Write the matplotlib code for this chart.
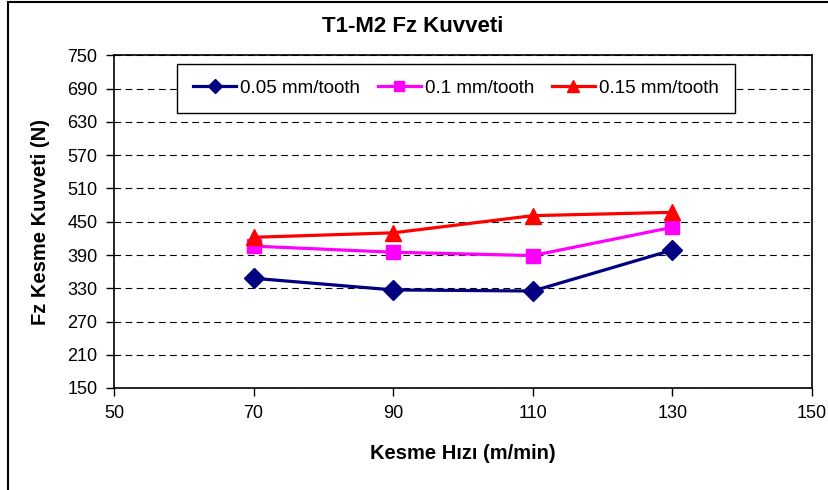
import matplotlib
matplotlib.use("Agg")
import matplotlib.pyplot as plt
import matplotlib.patches as mpatches

plt.rcParams['font.family'] = ['Liberation Sans', 'DejaVu Sans']

speed = [70, 90, 110, 130]
f005 = [348, 327, 325, 399]
f010 = [406, 395, 389, 440]
f015 = [422, 430, 461, 467]
labels = ["0.05 mm/tooth", "0.1 mm/tooth", "0.15 mm/tooth"]

W, H = 829, 490
fig = plt.figure(figsize=(W / 100, H / 100), dpi=100)
ax = fig.add_axes([114 / W, 1 - 388 / H, (812 - 114) / W, (388 - 55.5) / H])

# outer frame of the chart (only top and left edges show)
fig.patches.append(mpatches.Rectangle((8 / W, -0.1), 1.2, 1.1 - 2 / H, transform=fig.transFigure,
                                      fill=False, edgecolor='black', linewidth=1.5))

ax.plot(speed, f005, color='#000080', marker='D', markersize=10, linewidth=2.3, label=labels[0], zorder=3)
ax.plot(speed, f010, color='#FF00FF', marker='s', markersize=9.5, linewidth=2.3, label=labels[1], zorder=3)
ax.plot(speed, f015, color='#FF0000', marker='^', markersize=11, linewidth=2.3, label=labels[2], zorder=3)

ax.set_xlim(50, 150)
ax.set_ylim(150, 750)
ax.set_xticks(range(50, 151, 20))
ax.set_yticks(range(150, 751, 60))
ax.yaxis.grid(True, linestyle=(0, (6, 4)), color='black', linewidth=0.8)
ax.set_axisbelow(True)
ax.tick_params(axis='both', direction='out', length=6, width=1, labelsize=13, pad=6)
for s in ax.spines.values():
    s.set_linewidth(1.2)

ax.set_xlabel("Kesme Hızı (m/min)", fontsize=14.5, fontweight='bold', labelpad=16)
ax.set_ylabel("Fz Kesme Kuvveti (N)", fontsize=14.5, fontweight='bold', labelpad=12)
fig.text(413 / W, 1 - 27 / H, "T1-M2 Fz Kuvveti", ha='center', va='center', fontsize=16, fontweight='bold')

leg = ax.legend(loc='lower left', bbox_to_anchor=(0.0774, 0.80, 0.825, 0.156), mode='expand', ncol=3,
                fontsize=13.5, frameon=True, fancybox=False, framealpha=1, edgecolor='black',
                borderpad=0.85, handlelength=2.3, handletextpad=0.2, markerscale=0.75)
leg.get_frame().set_linewidth(1)

plt.savefig('out.png', dpi=100)
